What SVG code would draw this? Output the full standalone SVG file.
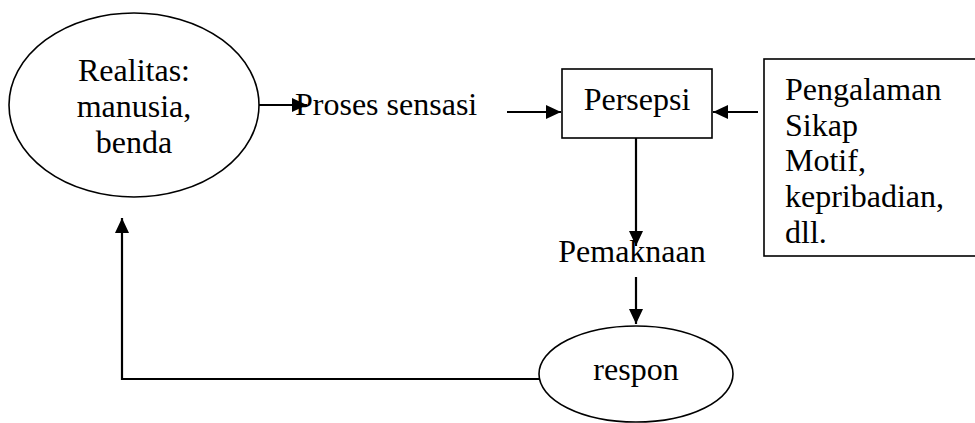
<svg xmlns="http://www.w3.org/2000/svg" width="975" height="423" viewBox="0 0 975 423">
<style>
.t{font-family:"Liberation Serif","Times New Roman",serif;font-size:32px;fill:#000}
.s{fill:none;stroke:#000;stroke-width:1.6}
.c{fill:none;stroke:#000;stroke-width:2.2}
</style>
<defs>
<marker id="ah" markerWidth="16" markerHeight="14" refX="15" refY="7" orient="auto" markerUnits="userSpaceOnUse">
<path d="M0,0 L15,7 L0,14 Z" fill="#000"/>
</marker>
</defs>
<rect width="975" height="423" fill="#fff"/>
<g id="realitas">
<ellipse class="s" cx="134" cy="105" rx="125" ry="92"/>
<text class="t" x="134" y="81" text-anchor="middle">Realitas:</text>
<text class="t" x="134" y="117" text-anchor="middle">manusia,</text>
<text class="t" x="134" y="153" text-anchor="middle">benda</text>
</g>
<g id="proses">
<text class="t" x="295" y="115">Proses sensasi</text>
</g>
<g id="persepsi">
<rect class="s" x="562" y="69" width="150" height="69"/>
<text class="t" x="637" y="110" text-anchor="middle">Persepsi</text>
</g>
<g id="faktor">
<rect class="s" x="764" y="59" width="215" height="197"/>
<text class="t" x="785" y="100">Pengalaman</text>
<text class="t" x="785" y="136">Sikap</text>
<text class="t" x="785" y="171">Motif,</text>
<text class="t" x="785" y="207">kepribadian,</text>
<text class="t" x="785" y="243">dll.</text>
</g>
<g id="pemaknaan">
<text class="t" x="632" y="262" text-anchor="middle">Pemaknaan</text>
</g>
<g id="respon">
<ellipse class="s" cx="636" cy="374" rx="97" ry="48"/>
<text class="t" x="636" y="380" text-anchor="middle">respon</text>
</g>
<g id="connectors">
<line class="c" x1="259" y1="105" x2="307" y2="105" marker-end="url(#ah)"/>
<line class="c" x1="507" y1="112" x2="561" y2="112" marker-end="url(#ah)"/>
<line class="c" x1="758" y1="112" x2="713" y2="112" marker-end="url(#ah)"/>
<line class="c" x1="636" y1="138" x2="636" y2="246" marker-end="url(#ah)"/>
<line class="c" x1="636" y1="277" x2="636" y2="324" marker-end="url(#ah)"/>
<polyline class="c" points="540,379 122,379 122,218" marker-end="url(#ah)"/>
</g>
</svg>
